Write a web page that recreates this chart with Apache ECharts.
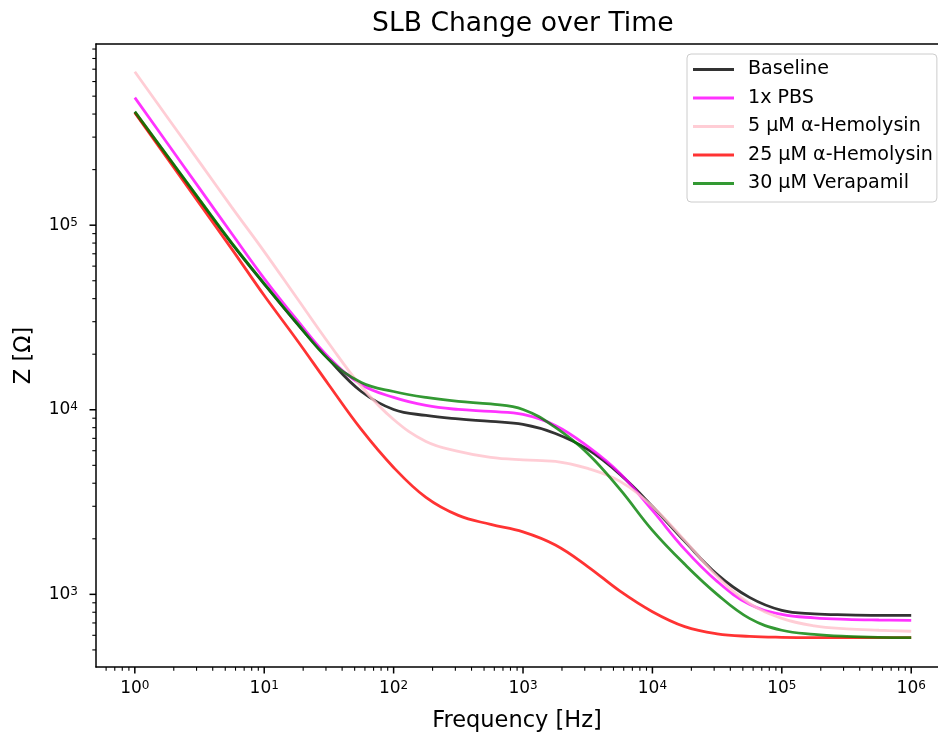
<!DOCTYPE html>
<html><head><meta charset="utf-8">
<script src="https://cdn.jsdelivr.net/npm/echarts@6.0.0/dist/echarts.min.js"></script>
<style>html,body{margin:0;padding:0;background:#fff;overflow:hidden}#c{width:938px;height:738px}</style>
</head><body><div id="c"></div>
<script>
// Frequency grid [Hz] (quarter-decade samples)
const freq = [1, 1.778, 3.162, 5.623, 10, 17.78, 31.62, 56.23, 100, 177.8, 316.2, 562.3, 1000, 1778, 3162, 5623, 10000, 17783, 31623, 56234, 100000, 177828, 316228, 562341, 1000000];
// |Z| [Ohm] per condition
const baseline = [409700, 236600, 136800, 79500, 48000, 29500, 18700, 12560, 10040, 9314, 8916, 8643, 8325, 7441, 6097, 4464, 2995, 1936, 1283, 963, 819, 784, 774, 770, 770];
const pbs1x    = [490800, 278700, 158200, 89830, 51390, 30830, 19200, 13710, 11660, 10550, 10040, 9790, 9432, 8222, 6329, 4520, 2849, 1752, 1176, 883, 779, 746, 732, 726, 723];
const hemo5    = [678500, 385800, 219600, 124900, 71960, 40550, 22860, 13370, 8860, 6736, 5946, 5517, 5347, 5248, 4811, 4091, 2995, 1961, 1252, 894, 741, 675, 650, 639, 631];
const hemo25   = [407200, 230800, 130900, 74230, 41570, 24020, 13620, 7822, 4871, 3351, 2677, 2393, 2180, 1850, 1415, 1040, 805, 668, 611, 592, 585, 583, 583, 583, 583];
const vera30   = [412200, 238100, 137600, 80010, 48290, 29700, 18720, 14050, 12560, 11660, 11090, 10750, 10040, 8020, 5800, 3703, 2221, 1454, 1000, 741, 639, 607, 592, 585, 583];

const seriesNames = ['Baseline', '1x PBS', '5 µM α-Hemolysin', '25 µM α-Hemolysin', '30 µM Verapamil'];
const seriesData = [baseline, pbs1x, hemo5, hemo25, vera30];
const seriesColors = ['rgba(0,0,0,0.8)', 'rgba(255,0,255,0.8)', 'rgba(255,192,203,0.8)', 'rgba(255,0,0,0.8)', 'rgba(0,128,0,0.8)'];

// Axis extents (right side of the axes box is cut off by the picture edge)
const X_MIN = Math.pow(10, -0.3), X_MAX = Math.pow(10, 6.207);
const Y_MIN = Math.pow(10, 2.6064), Y_MAX = Math.pow(10, 5.9816);
const xMajorTicks = [1, 10, 100, 1000, 10000, 100000, 1000000];
const yMajorTicks = [1000, 10000, 100000];

function minorTicks(lo, hi) {
  const out = [];
  for (let n = -2; n <= 7; n++) for (let k = 2; k <= 9; k++) {
    const v = k * Math.pow(10, n);
    if (v >= lo && v <= hi) out.push(v);
  }
  return out;
}
const xMinorTicks = minorTicks(X_MIN, X_MAX);
const yMinorTicks = minorTicks(Y_MIN, Y_MAX);

const FONT = 'DejaVu Sans';
const labelRich = {
  b: { fontFamily: FONT, fontSize: 17, color: '#000', verticalAlign: 'bottom' },
  s: { fontFamily: FONT, fontSize: 12, color: '#000', verticalAlign: 'top' }
};
const expFmt = v => '{b|10}{s|' + Math.round(Math.log10(v)) + '}';

function xTick(len, w) {
  return function (params, api) {
    const p = api.coord([api.value(0), Y_MIN]);
    return { type: 'line', shape: { x1: p[0], y1: p[1], x2: p[0], y2: p[1] + len }, style: { stroke: '#000', lineWidth: w } };
  };
}
function yTick(len, w) {
  return function (params, api) {
    const p = api.coord([X_MIN, api.value(1)]);
    return { type: 'line', shape: { x1: p[0] - len, y1: p[1], x2: p[0], y2: p[1] }, style: { stroke: '#000', lineWidth: w } };
  };
}

const series = seriesNames.map((name, i) => ({
  name: name,
  type: 'line',
  xAxisIndex: 0, yAxisIndex: 0,
  data: freq.map((f, j) => [f, seriesData[i][j]]),
  smooth: 0.4,
  symbol: 'none',
  color: seriesColors[i],
  lineStyle: { width: 2.8, color: seriesColors[i] },
  z: 2 + i
}));
series.push(
  { type: 'custom', silent: true, clip: false, z: 20, renderItem: xTick(6.5, 1.5), data: xMajorTicks.map(v => [v, Y_MIN]) },
  { type: 'custom', silent: true, clip: false, z: 20, renderItem: xTick(3.7, 1.1), data: xMinorTicks.map(v => [v, Y_MIN]) },
  { type: 'custom', silent: true, clip: false, z: 20, renderItem: yTick(6.5, 1.5), data: yMajorTicks.map(v => [X_MIN, v]) },
  { type: 'custom', silent: true, clip: false, z: 20, renderItem: yTick(3.7, 1.1), data: yMinorTicks.map(v => [X_MIN, v]) }
);

const spine = { show: true, lineStyle: { color: '#000', width: 1.5 } };

const chart = echarts.init(document.getElementById('c'), null, { renderer: 'canvas' });
chart.setOption({
  animation: false,
  backgroundColor: '#fff',
  title: {
    text: 'SLB Change over Time', left: 367, top: 6,
    textStyle: { fontFamily: FONT, fontSize: 26.6, fontWeight: 'normal', color: '#000' }
  },
  grid: { left: 96, right: 0, top: 44, bottom: 70, show: false },
  legend: {
    data: seriesNames, orient: 'vertical', left: 687, top: 54,
    icon: 'rect', itemWidth: 41, itemHeight: 3, itemGap: 6.5,
    padding: [4.5, 4, 7.5, 6], selectedMode: false,
    borderColor: '#cccccc', borderWidth: 1, borderRadius: 4, backgroundColor: 'rgba(255,255,255,0.8)',
    textStyle: { fontFamily: FONT, fontSize: 19.1, color: '#000', lineHeight: 22, padding: [0, 0, 0, 9] }
  },
  xAxis: [{
    type: 'log', logBase: 10, min: X_MIN, max: X_MAX, splitNumber: 6, position: 'bottom',
    name: 'Frequency [Hz]', nameLocation: 'middle', nameGap: 43, nameMoveOverlap: false,
    nameTextStyle: { fontFamily: FONT, fontSize: 22.5, color: '#000' },
    axisLine: spine, axisTick: { show: false }, splitLine: { show: false }, minorTick: { show: false },
    axisLabel: { formatter: expFmt, rich: labelRich, margin: 13, showMinLabel: false, showMaxLabel: false, hideOverlap: false }
  }, {
    type: 'log', logBase: 10, min: X_MIN, max: X_MAX, position: 'top',
    axisLine: spine, axisTick: { show: false }, axisLabel: { show: false }, splitLine: { show: false }
  }],
  yAxis: {
    type: 'log', logBase: 10, min: Y_MIN, max: Y_MAX, splitNumber: 5,
    name: 'Z [Ω]', nameLocation: 'middle', nameGap: 60, nameMoveOverlap: false,
    nameTextStyle: { fontFamily: FONT, fontSize: 22.5, color: '#000' },
    axisLine: spine, axisTick: { show: false }, splitLine: { show: false }, minorTick: { show: false },
    axisLabel: { formatter: expFmt, rich: labelRich, margin: 18, showMinLabel: false, showMaxLabel: false, hideOverlap: false }
  },
  series: series
});
</script>
</body></html>
